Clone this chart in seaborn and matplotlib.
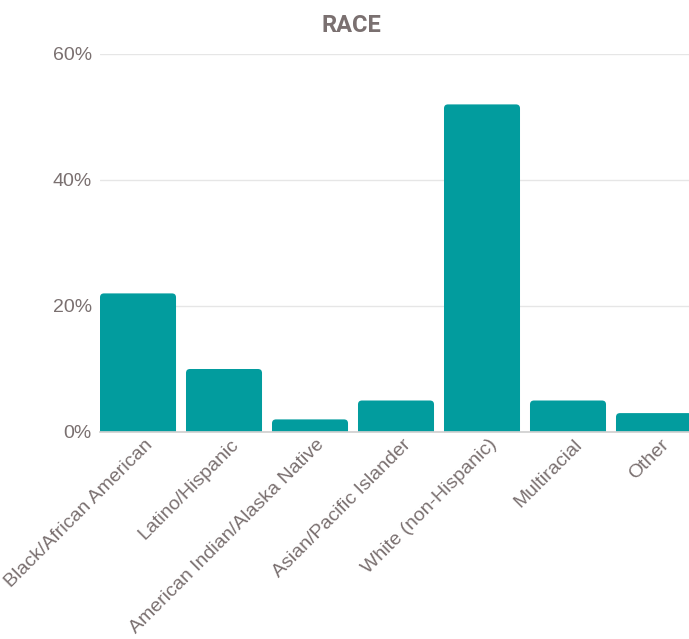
import pandas as pd
import matplotlib
matplotlib.use('Agg')
import matplotlib.pyplot as plt
import matplotlib.transforms as mtransforms
import seaborn as sns
from matplotlib.ticker import FuncFormatter
from matplotlib.patches import FancyBboxPatch

# chart data
categories = ['Black/African American', 'Latino/Hispanic', 'American Indian/Alaska Native',
              'Asian/Pacific Islander', 'White (non-Hispanic)', 'Multiracial', 'Other']
percent = [22, 10, 2, 5, 52, 5, 3]
y_ticks = [0, 20, 40, 60]

data = pd.DataFrame({'Race': categories, 'Percent': percent})

teal = '#029c9e'
text_gray = '#7a7070'

sns.set_theme(style='white')
plt.rcParams['font.family'] = ['Liberation Sans', 'DejaVu Sans']

fig = plt.figure(figsize=(6.89, 6.39), dpi=100)
ax = fig.add_axes([100 / 689, 1 - 432 / 639, 589 / 689, (432 - 54) / 639])

sns.barplot(data=data, x='Race', y='Percent', color=teal, width=0.884,
            saturation=1, ax=ax)

ax.set_xlim(-0.442, 6.407)
ax.set_ylim(0, 60)

# rounded top corners: swap each bar for a rounded box
x0, x1 = ax.get_xlim()
y0, y1 = ax.get_ylim()
bbox = ax.get_window_extent()
px_x = bbox.width / (x1 - x0)
px_y = bbox.height / (y1 - y0)
radius_px = 4
rx = radius_px / px_x
aspect = (radius_px / px_y) / rx
for bar in list(ax.patches):
    bx, bw, bh = bar.get_x(), bar.get_width(), bar.get_height()
    bar.remove()
    ax.add_patch(FancyBboxPatch((bx, -2), bw, bh + 2,
                                boxstyle=f'round,pad=0,rounding_size={rx}',
                                mutation_aspect=aspect, facecolor=teal,
                                edgecolor='none'))

ax.set_yticks(y_ticks)
ax.yaxis.set_major_formatter(FuncFormatter(lambda v, p: f'{v:.0f}%'))
ax.grid(axis='y', color='#e6e6e6', linewidth=1)
ax.set_axisbelow(True)
for s in ['top', 'right', 'left']:
    ax.spines[s].set_visible(False)
ax.spines['bottom'].set_color('#d0d0d0')
ax.tick_params(axis='y', length=0, pad=6, labelsize=14, labelcolor=text_gray)
ax.tick_params(axis='x', length=0, pad=3, labelsize=14, labelcolor=text_gray)
shift = mtransforms.ScaledTranslation(6 / 100, 0, fig.dpi_scale_trans)
for lbl in ax.get_xticklabels():
    lbl.set_rotation(45)
    lbl.set_ha('right')
    lbl.set_rotation_mode('anchor')
    lbl.set_transform(lbl.get_transform() + shift)
ax.set_xlabel('')
ax.set_ylabel('')

fig.text(351 / 689, 1 - 25 / 639, 'RACE', ha='center', va='center', fontsize=17,
         fontweight='bold', color=text_gray, family=['Roboto', 'DejaVu Sans'])

fig.savefig('out.png', dpi=100)
